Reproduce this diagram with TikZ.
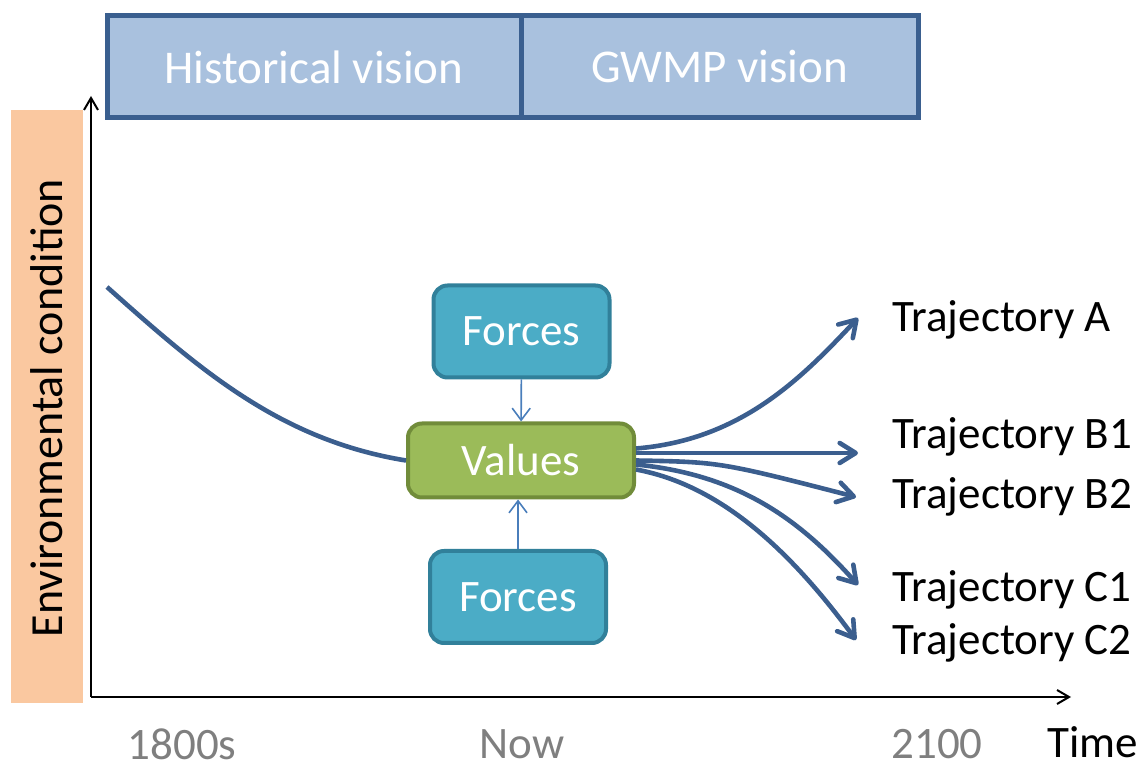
\documentclass[tikz,border=0pt]{standalone}
\usepackage{fontspec}
\setmainfont{Carlito}
\usepackage{xcolor}
\usepackage{tikz}
\usetikzlibrary{arrows.meta}
\definecolor{visionfill}{HTML}{A9C1DE}
\definecolor{visionline}{HTML}{3A5F8F}
\definecolor{forcefill}{HTML}{4BACC6}
\definecolor{forceline}{HTML}{31809A}
\definecolor{valuefill}{HTML}{9BBB59}
\definecolor{valueline}{HTML}{718C3A}
\definecolor{trajline}{HTML}{3B5E8E}
\definecolor{smallarrow}{HTML}{4A7EBB}
\definecolor{axisfill}{HTML}{FAC8A0}
\definecolor{yeargray}{HTML}{7F7F7F}
\tikzset{
    bigtext/.style = {font=\fontsize{22.5}{27}\selectfont},
    tnode/.style = {bigtext, align=center, inner sep=0pt, text centered},
    vision_box/.style = {tnode, rectangle, white, draw=visionline, fill=visionfill, line width=2.5pt, minimum height=51pt, font=\fontsize{23.5}{28}\selectfont},
    force_node/.style = {tnode, rectangle, rounded corners=7pt, white, draw=forceline, fill=forcefill, line width=2pt, minimum width=88pt, minimum height=46pt},
    value_node/.style = {tnode, rectangle, rounded corners=7pt, white, draw=valueline, fill=valuefill, line width=2pt, minimum width=113pt, minimum height=37pt},
    traj/.style = {-{Straight Barb[length=8pt, width=10pt, round]}, draw=trajline, line width=2.3pt},
    thin_arrow/.style = {-{Straight Barb[length=6pt, width=9pt]}, draw=smallarrow, line width=0.8pt},
    axis_arrow/.style = {-{Straight Barb[length=6pt, width=7pt]}, line width=1pt},
    traj_label/.style = {tnode, anchor=west},
    year_label/.style = {tnode, yeargray}
}
\begin{document}
\begin{tikzpicture}[x=0.5pt, y=-0.5pt]
    \useasboundingbox (0,0) rectangle (1142,769);
    % vertical axis label
    \fill[axisfill] (11,110) rectangle (83,703);
    \node[tnode, rotate=90, font=\fontsize{23}{28}\selectfont] (envlabel) at (47,408) {Environmental condition};
    % axes
    \coordinate (origin) at (91,697);
    \coordinate (ytop) at (91,96);
    \coordinate (xend) at (1071,697);
    \draw[axis_arrow] (origin) -- (ytop);
    \draw[axis_arrow] (origin) -- (xend);
    % visions
    \node[vision_box, minimum width=207pt] (hist) at (314,67) {Historical vision};
    \node[vision_box, minimum width=198.5pt] (gwmp) at (719.5,67) {GWMP vision};
    % forces and values
    \node[force_node] (forcetop) at (521.5,331.5) {Forces};
    \node[value_node] (values) at (521,460.5) {Values};
    \node[force_node] (forcebot) at (518,597) {Forces};
    \draw[thin_arrow] (forcetop) -- (values);
    \draw[thin_arrow] (forcebot) -- (values.south -| forcebot);
    % path until now
    \coordinate (start) at (107,287);
    \draw[draw=trajline, line width=2.3pt] (start) .. controls (200,370) and (280,440) .. (values.west);
    % trajectories
    \coordinate (endA) at (858,318);
    \coordinate (endB1) at (858,453);
    \coordinate (endB2) at (856,497);
    \coordinate (endC1) at (858,585);
    \coordinate (endC2) at (856,640);
    \draw[traj] ([yshift=6pt]values.east) .. controls (740,440) and (800,380) .. (endA);
    \draw[traj] (values.east |- endB1) -- (endB1);
    \draw[traj] (values.east) .. controls (720,462) .. (endB2);
    \draw[traj] ([yshift=-2pt]values.east) .. controls (740,475) and (800,520) .. (endC1);
    \draw[traj] ([yshift=-4.5pt]values.east) .. controls (720,485) and (790,550) .. (endC2);
    \node[traj_label] (labA) at (892,320) {Trajectory A};
    \node[traj_label] (labB1) at (892,437) {Trajectory B1};
    \node[traj_label] (labB2) at (892,497) {Trajectory B2};
    \node[traj_label] (labC1) at (892,590) {Trajectory C1};
    \node[traj_label] (labC2) at (892,643) {Trajectory C2};
    % time axis
    \node[year_label] (y1800) at (182,744) {1800s};
    \node[year_label] (ynow) at (522,744) {Now};
    \node[year_label] (y2100) at (937,744) {2100};
    \node[tnode] (timelab) at (1093,742) {Time};
\end{tikzpicture}
\end{document}
